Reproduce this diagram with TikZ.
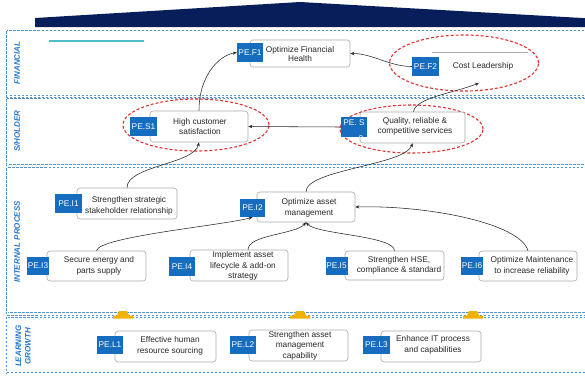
\documentclass[tikz,border=0pt]{standalone}
\usepackage{fontspec}
\setmainfont{Liberation Sans}
\usetikzlibrary{arrows.meta,shapes.geometric}
\definecolor{navy}{RGB}{8,30,90}
\definecolor{peblue}{RGB}{22,108,190}
\definecolor{panelb}{RGB}{80,150,210}
\definecolor{lblb}{RGB}{40,120,200}
\definecolor{tealline}{RGB}{80,190,200}
\definecolor{goldm}{RGB}{240,178,0}
\definecolor{elred}{RGB}{225,50,50}
\definecolor{txtc}{RGB}{40,40,40}
\definecolor{boxb}{RGB}{170,170,170}
\begin{document}
\begin{tikzpicture}[x=1pt,y=-1pt,
  panel/.style={draw=panelb, line width=0.8pt, dash pattern=on 2.5pt off 1.5pt, double=white, double distance=0.8pt},
  lbl/.style={text=lblb, font=\fontsize{8}{9.5}\selectfont\bfseries\itshape, rotate=90, align=center, inner sep=0},
  box/.style={draw=boxb, fill=white, rounded corners=3pt, line width=0.6pt, inner sep=0},
  txt/.style={text=txtc, font=\fontsize{8.3}{10.5}\selectfont, align=center, inner sep=0},
  pe/.style={fill=peblue, text=white, font=\fontsize{8.3}{9}\selectfont, inner sep=0},
  ell/.style={ellipse, draw=elred, line width=1.1pt, dash pattern=on 3pt off 2pt, inner sep=0},
  arr/.style={-{Stealth[length=4pt,width=3.2pt]}, line width=0.55pt, black!85},
  goldmark/.style={fill=goldm}
]
\useasboundingbox (0,0) rectangle (585,376);
\fill[white] (0,0) rectangle (585,376);

% roof
\fill[navy] (35,27) -- (35,18) -- (300,2) -- (600,19) -- (600,27) -- cycle;

% panels
\draw[panel] (7,31) rectangle (600,96.5);
\draw[panel] (7,99) rectangle (600,165);
\draw[panel] (7,168) rectangle (600,313);
\draw[panel] (7,316.5) rectangle (600,373);

% panel labels
\node[lbl] (lfin) at (17,63) {FINANCIAL};
\node[lbl] (lsh) at (17,131) {S/HOLDER};
\node[lbl] (lint) at (17,242) {INTERNAL PROCESS};
\node[lbl] (llg) at (23,346) {LEARNING\\GROWTH};

% teal line
\draw[tealline, line width=2.5pt] (49,41) -- (144,41);

% gold markers
\foreach \gx in {123,300,473}{
  \fill[goldmark] (\gx-10,318.5) -- (\gx-10,315.5) -- (\gx-6,315.5) -- (\gx-4,311) -- (\gx+4,311) -- (\gx+6,315.5) -- (\gx+10,315.5) -- (\gx+10,318.5) -- cycle;
}

% ellipses
\node[ell, minimum width=149, minimum height=56] (ef2) at (464,63) {};
\node[ell, minimum width=146, minimum height=52] (es1) at (196,125) {};
\node[ell, minimum width=143, minimum height=48] (es2) at (411.5,129) {};

% Financial
\node[box, minimum width=100, minimum height=27] (f1) at (300,53.5) {};
\node[txt, font=\fontsize{8.3}{5.5}\selectfont] (f1t) at (300,54) {Optimize Financial\\Health};
\node[pe, minimum width=26, minimum height=19] (pef1) at (250,52.5) {PE.F1};

\draw[boxb, line width=0.8pt] (432,52) -- (528,52);
\node[pe, minimum width=27, minimum height=19] (pef2) at (425.5,66.5) {PE.F2};
\node[txt] (cost) at (483,66.5) {Cost Leadership};

% S/holder
\node[box, minimum width=98, minimum height=31] (s1) at (199,126.5) {};
\node[txt] (s1t) at (200,126.5) {High customer\\satisfaction};
\node[pe, minimum width=27, minimum height=19] (pes1) at (143.5,126.5) {PE.S1};

\node[box, minimum width=105, minimum height=31] (s2) at (412.5,127.5) {};
\node[txt] (s2t) at (415,126.5) {Quality, reliable \&\\competitive services};
\node[pe, minimum width=26, minimum height=20] (pes2) at (354,127) {};
\node[pe, fill=none] (pes2t) at (354,122.5) {PE. S};
\begin{scope}
  \clip (341,117) rectangle (367,137);
  \node[pe, fill=none] (pes2n) at (361,138.5) {2};
\end{scope}

% Internal process
\node[box, minimum width=100, minimum height=31] (i1) at (127,203.5) {};
\node[txt] (i1t) at (129,206) {Strengthen strategic\\stakeholder relationship};
\node[pe, minimum width=27, minimum height=19] (pei1) at (68.5,203.5) {PE.I1};

\node[box, minimum width=98, minimum height=30] (i2) at (306,207) {};
\node[txt] (i2t) at (309,208) {Optimize asset\\management};
\node[pe, minimum width=25, minimum height=18] (pei2) at (252.5,208) {PE.I2};

\node[box, minimum width=99, minimum height=30] (i3) at (96.5,266) {};
\node[txt] (i3t) at (99,266) {Secure energy and\\parts supply};
\node[pe, minimum width=22, minimum height=18] (pei3) at (38,266) {PE.I3};

\node[box, minimum width=98, minimum height=31] (i4) at (239,265.5) {};
\node[txt] (i4t) at (243,266) {Implement asset\\lifecycle \& add-on\\strategy};
\node[pe, minimum width=26, minimum height=19] (pei4) at (182,266.5) {PE.I4};

\node[box, minimum width=99, minimum height=29] (i5) at (394.5,265.5) {};
\node[txt] (i5t) at (399,265.5) {Strengthen HSE,\\compliance \& standard};
\node[pe, minimum width=22, minimum height=18] (pei5) at (336.5,266) {PE.I5};

\node[box, minimum width=98, minimum height=30] (i6) at (528,266) {};
\node[txt] (i6t) at (532,266) {Optimize Maintenance\\to increase reliability};
\node[pe, minimum width=22, minimum height=18] (pei6) at (472,266) {PE.I6};

% Learning & growth
\node[box, minimum width=101, minimum height=31] (l1) at (165.5,346.5) {};
\node[txt] (l1t) at (170,346) {Effective human\\resource sourcing};
\node[pe, minimum width=26, minimum height=18] (pel1) at (110,345) {PE.L1};

\node[box, minimum width=99, minimum height=31] (l2) at (298.5,345.5) {};
\node[txt] (l2t) at (300,345.5) {Strengthen asset\\management\\capability};
\node[pe, minimum width=26, minimum height=18] (pel2) at (243,345) {PE.L2};

\node[box, minimum width=100, minimum height=31] (l3) at (431,346.5) {};
\node[txt] (l3t) at (433,345) {Enhance IT process\\and capabilities};
\node[pe, minimum width=27, minimum height=18] (pel3) at (376.5,345) {PE.L3};

% connectors
\coordinate (f2in) at (479,83);
\draw[arr] (pef2.west) .. controls +(-22,0) and +(22,0) .. (f1.east);
\draw[arr] (s1.north) .. controls +(0,-35) and +(-18,3) .. (pef1.west);
\draw[arr] (pes2.west) -- (s1.east);
\draw[arr] ([xshift=1]s2.north) .. controls +(2,-14) and +(-25,10) .. (f2in);
\draw[arr] (i1.north) .. controls +(0,-22) and +(-5,22) .. (s1.south);
\draw[arr] (i2.north) .. controls +(0,-22) and +(-8,22) .. (s2.south);
\draw[arr] (i3.north) .. controls +(2,-14) and +(-28,8) .. (pei2.south);
\draw[arr] ([xshift=9]i4.north) .. controls +(0,-15) and +(-10,12) .. (i2.south);
\draw[arr] (i5.north) .. controls +(0,-15) and +(10,12) .. (i2.south);
\draw[arr] (i6.north) .. controls +(-8,-28) and +(70,-2) .. (i2.east);
\end{tikzpicture}
\end{document}
